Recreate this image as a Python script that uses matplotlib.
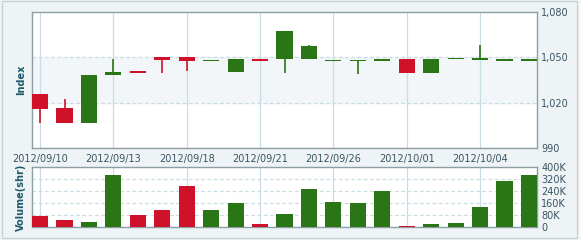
import numpy as np
import matplotlib
matplotlib.use("Agg")
import matplotlib.pyplot as plt
from matplotlib.patches import Rectangle
from matplotlib.ticker import FuncFormatter

# daily candles, 2012/09/10 .. (categorical trading days)
opens  = [1025.5, 1016.3, 1006.3, 1038.3, 1041.0, 1050.0, 1050.0, 1047.6, 1040.3, 1049.0,
          1048.7, 1048.7, 1047.6, 1047.4, 1047.5, 1049.0, 1039.4, 1048.9, 1048.5, 1047.8, 1047.8]
closes = [1016.0, 1006.3, 1038.5, 1040.0, 1039.4, 1048.3, 1047.5, 1048.0, 1049.0, 1047.5,
          1067.6, 1057.5, 1048.0, 1048.0, 1049.0, 1039.5, 1049.1, 1049.4, 1049.3, 1048.2, 1048.2]
highs  = [1025.5, 1022.2, 1038.5, 1048.7, 1041.0, 1050.0, 1050.0, 1048.0, 1049.0, 1049.0,
          1067.6, 1058.4, 1048.0, 1048.0, 1049.0, 1049.0, 1049.1, 1049.4, 1058.4, 1048.2, 1048.2]
lows   = [1006.3, 1006.3, 1006.3, 1038.3, 1039.4, 1039.8, 1040.7, 1047.6, 1040.3, 1047.5,
          1039.8, 1048.7, 1047.6, 1039.0, 1047.5, 1039.5, 1039.4, 1048.9, 1048.5, 1047.8, 1047.8]
volume_k = [76, 49, 31, 350, 81, 116, 273, 116, 162, 22, 85,
            251, 170, 157, 238, 8, 22, 27, 135, 310, 350]
date_pos = [0, 3, 6, 9, 12, 15, 18]
date_labels = ["2012/09/10", "2012/09/13", "2012/09/18", "2012/09/21",
               "2012/09/26", "2012/10/01", "2012/10/04"]
price_ticks = [990, 1020, 1050, 1080]
vol_ticks = [0, 80, 160, 240, 320, 400]

RED, GREEN = "#cf1129", "#2a7516"
GRID = "#c9dde5"
TXT = "#3a5562"
LAB = "#1d5a6c"

plt.rcParams.update({"font.family": "DejaVu Sans", "font.size": 7})

fig = plt.figure(figsize=(5.8, 2.4), dpi=100)
fig.patch.set_facecolor("#eef3f5")
fig.patches.append(Rectangle((2 / 580, 2 / 240), 575 / 580, 237 / 240, transform=fig.transFigure,
                             fill=False, edgecolor="#c7d2d7", lw=1))

ax = fig.add_axes([32 / 580, 1 - 148 / 240, 505 / 580, 136 / 240])
axv = fig.add_axes([32 / 580, 1 - 227 / 240, 505 / 580, 60 / 240])

x = np.arange(len(opens))
w = 0.66
for i in x:
    o, c, h, l = opens[i], closes[i], highs[i], lows[i]
    col = GREEN if c >= o else RED
    ax.vlines(i, l, h, color=col, lw=1.2, zorder=3)
    bot = min(o, c)
    hgt = max(abs(c - o), 0.9)
    ax.bar(i, hgt, w, bottom=bot, color=col, zorder=4)
    axv.bar(i, volume_k[i], w, color=col, zorder=4)

for a in (ax, axv):
    a.set_xlim(-0.33, len(opens) - 1 + 0.33)
    a.set_facecolor("white")
    for xp in date_pos:
        a.axvline(xp, color=GRID, lw=0.9, zorder=1)
    a.yaxis.tick_right()
    a.tick_params(length=0, colors=TXT, labelsize=7)
    for s in a.spines.values():
        s.set_color("#8d9ea5")
        s.set_linewidth(1.0)

ax.set_ylim(990, 1080)
ax.set_yticks(price_ticks)
ax.yaxis.set_major_formatter(FuncFormatter(lambda v, p: f"{v:,.0f}"))
ax.axhspan(1020, 1050, color="#f3f6f8", zorder=0)
for yv in (1020, 1050):
    ax.axhline(yv, color=GRID, lw=0.9, ls=(0, (3, 2)), zorder=1)
ax.set_xticks(date_pos)
ax.set_xticklabels(date_labels)
ax.tick_params(axis="x", pad=4)
ax.tick_params(axis="y", pad=3)
ax.set_ylabel("Index", color=LAB, fontweight="bold", fontsize=7, labelpad=4)

axv.set_ylim(0, 400)
axv.set_yticks(vol_ticks)
axv.set_yticklabels([f"{v}K" if v else "0" for v in vol_ticks])
for yv in vol_ticks[1:-1]:
    axv.axhline(yv, color=GRID, lw=0.9, ls=(0, (3, 2)), zorder=1)
axv.set_xticks(date_pos)
axv.tick_params(axis="x", labelbottom=False)
axv.tick_params(axis="y", pad=3)
axv.set_ylabel("Volume(shr)", color=LAB, fontweight="bold", fontsize=7, labelpad=4)

fig.savefig("out.png", dpi=100, facecolor=fig.get_facecolor())
